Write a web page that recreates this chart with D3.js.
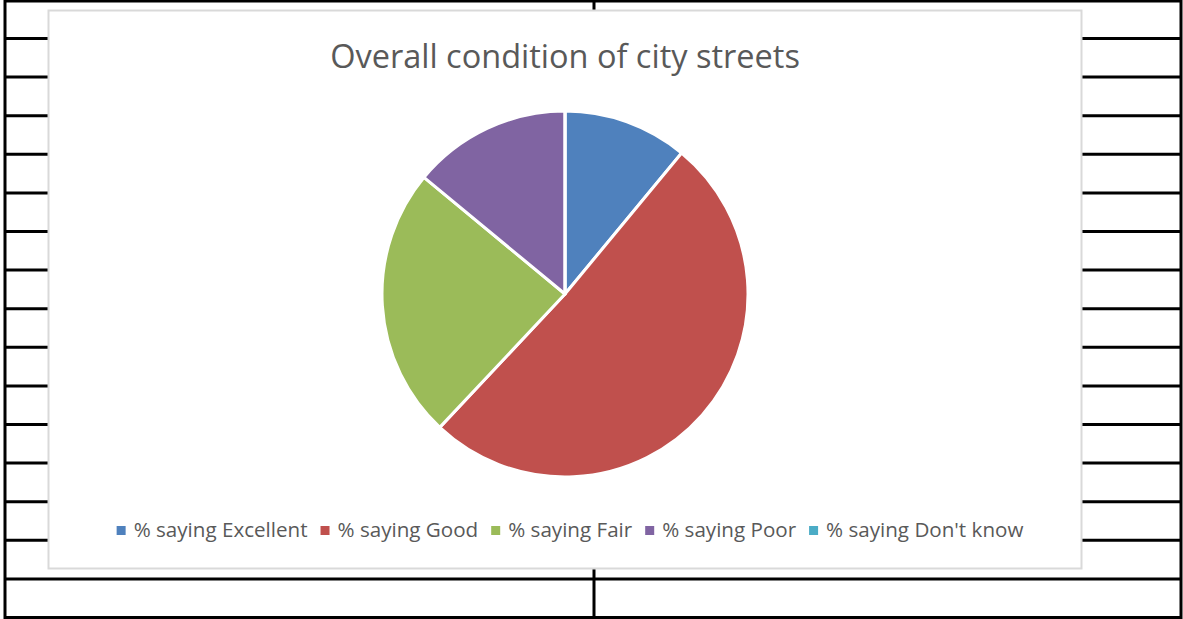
<!DOCTYPE html>
<html>
<head>
<meta charset="utf-8">
<script src="https://cdn.jsdelivr.net/npm/d3@7"></script>
<style>
  body { margin: 0; background: #fff; }
  svg { display: block; }
</style>
</head>
<body>
<script>
// data
const categories = ["% saying Excellent", "% saying Good", "% saying Fair", "% saying Poor", "% saying Don't know"];
const values = [11, 51, 24, 14, 0];
const colors = ["#4F81BD", "#C0504D", "#9BBB59", "#8064A2", "#4BACC6"];
const title = "Overall condition of city streets";

const w = 1183, h = 619;
const svg = d3.select("body").append("svg").attr("width", w).attr("height", h);

// spreadsheet grid behind the chart
const rowY = d3.range(15).map(i => 38.5 + i * 38.6);
const grid = svg.append("g").attr("stroke", "#000");
grid.selectAll("line.row").data(rowY).enter().append("line")
  .attr("x1", 4).attr("x2", 1182)
  .attr("y1", d => d).attr("y2", d => d)
  .attr("stroke-width", 3);
grid.append("line").attr("x1", 4).attr("x2", 1182).attr("y1", 1).attr("y2", 1).attr("stroke-width", 3);
grid.append("line").attr("x1", 4).attr("x2", 1182).attr("y1", 617.5).attr("y2", 617.5).attr("stroke-width", 3);
grid.append("line").attr("x1", 5).attr("x2", 5).attr("y1", 0).attr("y2", h).attr("stroke-width", 3);
grid.append("line").attr("x1", 1181).attr("x2", 1181).attr("y1", 0).attr("y2", h).attr("stroke-width", 3);
grid.append("line").attr("x1", 594).attr("x2", 594).attr("y1", 0).attr("y2", h).attr("stroke-width", 3);

// chart area
const box = {x: 48.5, y: 10.5, w: 1033, h: 558};
svg.append("rect")
  .attr("x", box.x).attr("y", box.y).attr("width", box.w).attr("height", box.h)
  .attr("fill", "#fff").attr("stroke", "#d9d9d9").attr("stroke-width", 2);

const font = "'Open Sans', 'Liberation Sans', sans-serif";

svg.append("text")
  .attr("x", 565).attr("y", 68)
  .attr("text-anchor", "middle")
  .attr("font-family", font).attr("font-size", 32.5)
  .attr("fill", "#595959")
  .text(title);

// pie
const cx = 565, cy = 294, r = 183;
const pie = d3.pie().sort(null).value(d => d);
const arc = d3.arc().innerRadius(0).outerRadius(r);
svg.append("g").attr("transform", `translate(${cx},${cy})`)
  .selectAll("path").data(pie(values)).enter().append("path")
  .attr("d", arc)
  .attr("fill", (d, i) => colors[i])
  .attr("stroke", "#fff").attr("stroke-width", 3).attr("stroke-linejoin", "round");

// legend
const legend = svg.append("g");
const items = legend.selectAll("g").data(categories).enter().append("g");
items.append("rect").attr("width", 9).attr("height", 9).attr("y", -11)
  .attr("fill", (d, i) => colors[i]);
items.append("text").attr("x", 17).attr("y", 0)
  .attr("font-family", font).attr("font-size", 20.6)
  .attr("fill", "#595959")
  .text(d => d);

let x = 0;
const gap = 13;
items.each(function () {
  const g = d3.select(this);
  g.attr("transform", `translate(${x},0)`);
  x += 17 + g.select("text").node().getComputedTextLength() + gap;
});
const total = x - gap;
legend.attr("transform", `translate(${cx + 5 - total / 2},${537})`);
</script>
</body>
</html>
